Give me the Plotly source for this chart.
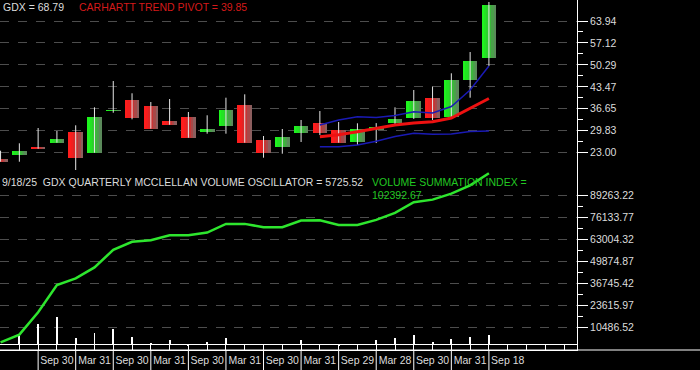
import plotly.graph_objects as go

# ---------------- data ----------------
quarter_idx = list(range(27))  # quarterly candles, Mar 2019 .. Sep 18 2025

opens  = [21.13, 22.38, 24.87, 26.11, 29.43, 23.00, 35.87, 39.38, 37.52, 32.85, 34.19, 29.53, 31.30, 37.83,
          26.95, 24.68, 29.22, 32.23, 30.06, 26.42, 30.10, 32.33, 33.79, 39.91, 34.00, 45.60, 52.53]
highs  = [23.62, 25.92, 30.68, 29.75, 31.52, 37.11, 45.29, 41.47, 38.76, 39.69, 35.65, 34.63, 40.10, 41.15,
          28.19, 30.37, 33.17, 35.96, 32.54, 32.14, 32.20, 37.11, 42.49, 43.52, 47.68, 54.30, 69.85]
lows   = [20.20, 20.20, 24.24, 26.11, 16.48, 23.00, 35.43, 33.38, 30.46, 31.70, 27.66, 28.91, 28.91, 26.11,
          21.45, 22.69, 26.33, 28.50, 26.11, 25.39, 26.00, 31.77, 33.50, 33.17, 34.00, 40.10, 49.95]
closes = [20.20, 23.53, 24.24, 27.26, 21.45, 34.10, 36.37, 33.88, 30.46, 31.70, 27.66, 30.46, 36.27, 26.11,
          23.00, 27.88, 31.30, 29.22, 26.11, 30.27, 31.00, 33.48, 39.07, 33.88, 45.60, 51.51, 68.79]

pivot_idx   = list(range(17, 27))
pivot_red   = [27.97, 28.60, 29.53, 30.59, 31.61, 32.23, 32.64, 33.79, 36.90, 39.85]
band_upper  = [31.61, 33.17, 34.19, 33.94, 34.56, 35.75, 35.34, 37.36, 42.49, 49.95]
band_lower  = [24.87, 24.87, 25.39, 26.54, 28.04, 29.03, 28.72, 28.81, 29.59, 29.75]

summation = [1500, 6130, 19430, 35700, 39660, 46210, 56730, 61490, 62480, 65460, 65460, 67040, 72200, 72200,
             70220, 70220, 74190, 74380, 71610, 71610, 74580, 78750, 85100, 86690, 90260, 95220, 102392.67]

osc_idx = list(range(1, 27))
oscillator = [5550, 12500, 16670, 4370, 7150, 9530, 4960, 1190, 2980, -600, 1790, 4370, 800, -1500,
              800, 2980, 0, -900, 0, 2980, 4370, 6150, 1990, 3770, 4760, 5725.52]

label_idx = list(range(2, 27, 2))
tick_labels = ["Sep 30", "Mar 31", "Sep 30", "Mar 31", "Sep 30", "Mar 31", "Sep 30",
               "Mar 31", "Sep 29", "Mar 28", "Sep 30", "Mar 31", "Sep 18"]

price_ticks = [23.00, 29.83, 36.65, 43.47, 50.29, 57.12, 63.94]
vol_ticks = [10486.52, 23615.97, 36745.42, 49874.87, 63004.32, 76133.77, 89263.22]

# ---------------- styling ----------------
W, H = 700, 370
ML, MR, MT, MB = 0, 123, 0, 20
PW, PH = W - ML - MR, H - MT - MB
XR = [-0.03, 30.69]
FONT = "Liberation Sans, Arial, sans-serif"
TXT = "#dcdcdc"
GRID = "#4d4d4d"

green_strips = ["#1ef41e", "#22e422", "#2cd02c", "#3ab83a", "#4aa04a", "#5a8a5a"]
red_strips = ["#ff1c1c", "#f41e1e", "#e02424", "#c83434", "#a84848", "#8c5e5e"]
BODY_W = 0.78

fig = go.Figure()

# wicks
wx, wy = [], []
for i, lo, hi in zip(quarter_idx, lows, highs):
    wx += [i, i, None]
    wy += [lo, hi, None]
fig.add_trace(go.Scatter(x=wx, y=wy, mode="lines", line=dict(color="#e6e6e6", width=1),
                         xaxis="x", yaxis="y", hoverinfo="skip"))

# bodies with horizontal gradient (vertical strips)
base = [min(o, c) for o, c in zip(opens, closes)]
hgt = [max(abs(c - o), 0.12) for o, c in zip(opens, closes)]
n = len(green_strips)
sw = BODY_W / n
for k in range(n):
    cols = [green_strips[k] if c >= o else red_strips[k] for o, c in zip(opens, closes)]
    fig.add_trace(go.Bar(x=quarter_idx, y=hgt, base=base, width=sw, offset=-BODY_W / 2 + k * sw,
                         marker=dict(color=cols, line=dict(width=0)),
                         xaxis="x", yaxis="y", hoverinfo="skip"))

# bands and pivot
fig.add_trace(go.Scatter(x=pivot_idx, y=band_upper, mode="lines", line=dict(color="#1a1ab4", width=1.5),
                         xaxis="x", yaxis="y", hoverinfo="skip"))
fig.add_trace(go.Scatter(x=pivot_idx, y=band_lower, mode="lines", line=dict(color="#1a1ab4", width=1.5),
                         xaxis="x", yaxis="y", hoverinfo="skip"))
fig.add_trace(go.Scatter(x=pivot_idx, y=pivot_red, mode="lines", line=dict(color="#ee1111", width=3),
                         xaxis="x", yaxis="y", hoverinfo="skip"))

# lower panel
fig.add_trace(go.Bar(x=osc_idx, y=oscillator, width=0.1, marker=dict(color="#ffffff", line=dict(width=0)),
                     xaxis="x2", yaxis="y2", hoverinfo="skip"))
fig.add_trace(go.Scatter(x=quarter_idx, y=summation, mode="lines", line=dict(color="#2ee62e", width=2.5),
                         xaxis="x2", yaxis="y2", hoverinfo="skip"))


def px_to_py(y):
    return 1 - y / PH


def mids(t):
    return [(a + b) / 2 for a, b in zip(t[:-1], t[1:])]


yax_common = dict(
    side="right", showline=True, linecolor="#ffffff", linewidth=1,
    ticks="outside", ticklen=10, tickcolor="#ffffff", tickwidth=1,
    tickfont=dict(family=FONT, size=10.5, color=TXT),
    showgrid=True, gridcolor=GRID, griddash="dash", gridwidth=1,
    zeroline=False, fixedrange=True,
)

# x tick labels centred between divider lines
xt_vals = list(range(0, 31))
xt_text = [""] * len(xt_vals)
for i, lab in zip(label_idx, tick_labels):
    xt_text[i + 1] = lab

fig.update_layout(
    width=W, height=H,
    margin=dict(l=ML, r=MR, t=MT, b=MB),
    paper_bgcolor="#000000", plot_bgcolor="#000000",
    showlegend=False, barmode="overlay", bargap=0,
    xaxis=dict(domain=[0, 1], anchor="y", range=XR, showticklabels=False, ticks="",
               showgrid=False, zeroline=False, showline=False, fixedrange=True),
    xaxis2=dict(domain=[0, 1], anchor="y2", range=XR, tickmode="array", tickvals=xt_vals, ticktext=xt_text,
                ticks="inside", ticklen=5, tickcolor="#ffffff", tickwidth=1,
                tickfont=dict(family=FONT, size=10.5, color=TXT),
                showgrid=False, zeroline=False, showline=True, linecolor="#ffffff", linewidth=1,
                fixedrange=True),
    yaxis=dict(domain=[px_to_py(175), 1], anchor="x", range=[16.07, 70.47],
               tickmode="array", tickvals=price_ticks, ticktext=[f"{v:.2f}" for v in price_ticks],
               minor=dict(tickvals=mids(price_ticks), ticks="outside", ticklen=5, tickcolor="#ffffff",
                          showgrid=False),
               **yax_common),
    yaxis2=dict(domain=[0, px_to_py(170)], anchor="x2", range=[-3061, 104365],
                tickmode="array", tickvals=vol_ticks, ticktext=[f"{v:.2f}" for v in vol_ticks],
                minor=dict(tickvals=mids(vol_ticks), ticks="outside", ticklen=5, tickcolor="#ffffff",
                           showgrid=False),
                **{**yax_common, "zeroline": True}, zerolinecolor="#ffffff", zerolinewidth=1),
)

# label-strip lines
shapes = [dict(type="line", xref="paper", yref="paper", x0=0, x1=W / PW, y0=0, y1=0,
               line=dict(color="#ffffff", width=1))]
for i in label_idx:
    shapes.append(dict(type="line", xref="x2", yref="paper", x0=i, x1=i, y0=0, y1=-MB / PH,
                       line=dict(color="#ffffff", width=1)))
fig.update_layout(shapes=shapes)


def ann(text, xpx, ypx, color):
    return dict(text=text, xref="paper", yref="paper", x=xpx / PW, y=px_to_py(ypx),
                xanchor="left", yanchor="middle", showarrow=False,
                font=dict(family=FONT, size=10.5, color=color))


fig.update_layout(annotations=[
    ann("GDX = 68.79", 1, 7, TXT),
    ann("CARHARTT TREND PIVOT = 39.85", 77, 7, "#d41a1a"),
    ann("9/18/25  GDX QUARTERLY MCCLELLAN VOLUME OSCILLATOR = 5725.52", 0, 182, TXT),
    ann("VOLUME SUMMATION INDEX =", 370, 182, "#22c822"),
    ann("102392.67", 370, 195, "#22c822"),
])

fig.write_html("out.html", config={"displayModeBar": False, "staticPlot": True},
               post_script="document.body.style.margin='0';document.body.style.background='#000';")
